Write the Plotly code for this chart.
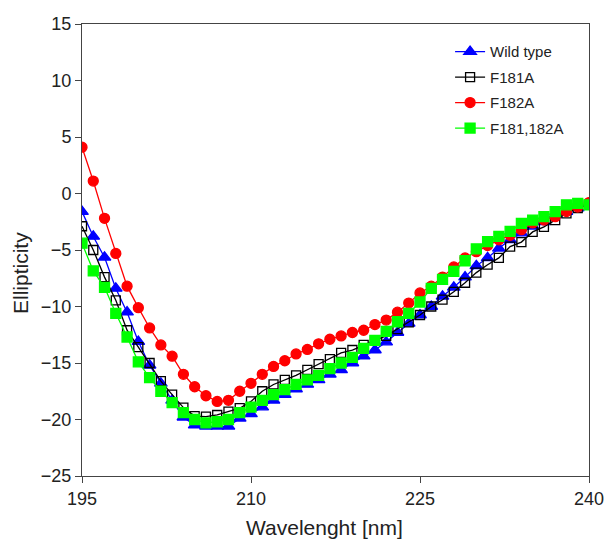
import plotly.graph_objects as go

wavelength = list(range(195, 241))

wild_type = [-1.6, -3.8, -5.65, -8.4, -10.5, -13.1, -15.2, -16.8, -18.3, -19.8,
             -20.5, -20.6, -20.6, -20.6, -19.9, -19.5, -18.9, -18.3, -17.8, -17.3,
             -16.9, -16.5, -16.0, -15.6, -15.0, -14.4, -13.85, -13.15, -12.3, -11.5,
             -10.75, -10.0, -9.1, -8.3, -7.4, -6.4, -5.7, -4.85, -4.1, -3.5,
             -2.9, -2.5, -1.9, -1.6, -1.3, -0.9]

f181a = [-2.9, -5.0, -7.4, -9.45, -12.1, -13.6, -15.0, -16.6, -17.8, -18.95,
         -19.7, -19.75, -19.6, -19.3, -19.0, -18.4, -17.5, -16.9, -16.5, -16.1,
         -15.6, -15.1, -14.65, -14.1, -13.85, -13.4, -13.0, -12.6, -12.0, -11.4,
         -10.75, -10.0, -9.4, -8.7, -7.9, -7.0, -6.3, -5.7, -4.7, -4.3,
         -3.4, -2.95, -2.35, -1.75, -1.3, -1.0]

f182a = [4.1, 1.1, -2.2, -5.3, -8.2, -10.1, -11.9, -13.4, -14.4, -16.0,
         -17.1, -17.9, -18.4, -18.3, -17.5, -16.8, -16.0, -15.3, -14.8, -14.2,
         -13.8, -13.3, -12.9, -12.6, -12.3, -12.1, -11.6, -11.2, -10.5, -9.7,
         -8.8, -8.2, -7.4, -6.5, -5.7, -5.15, -4.6, -4.1, -3.7, -3.2,
         -2.6, -2.35, -2.05, -1.6, -1.2, -0.8]

f181_182a = [-4.4, -6.85, -8.3, -10.6, -12.7, -14.9, -16.3, -17.5, -18.5, -19.4,
             -20.0, -20.3, -20.2, -20.0, -19.4, -18.9, -18.3, -17.8, -17.35, -16.9,
             -16.5, -16.1, -15.5, -15.0, -14.5, -13.7, -13.0, -12.2, -11.35, -10.6,
             -9.6, -8.4, -7.6, -6.9, -5.95, -4.9, -4.26, -3.8, -3.36, -2.64,
             -2.35, -2.05, -1.6, -1.0, -0.87, -1.0]

x_ticks = [195, 210, 225, 240]
y_ticks = [-25, -20, -15, -10, -5, 0, 5, 10, 15]

series = [
    ("Wild type", wild_type, "#0000ff", "triangle-up", 11),
    ("F181A", f181a, "#000000", "square-open", 9),
    ("F182A", f182a, "#ff0000", "circle", 10),
    ("F181,182A", f181_182a, "#00ff00", "square", 10),
]

fig = go.Figure()
for name, vals, color, sym, size in series:
    fig.add_trace(go.Scatter(
        x=wavelength, y=vals, name=name, mode="lines+markers",
        legendgroup=name,
        line=dict(color=color, width=1.3),
        marker=dict(symbol=sym, size=size, color=color,
                    line=dict(color=color, width=1.3)),
    ))

FONT = "Liberation Sans, Arial, sans-serif"
axis_font = dict(family=FONT, size=18, color="#222")

W, H = 606, 539
L, R, T, B = 82, 17, 24, 63
PW, PH = W - L - R, H - T - B

fig.update_layout(
    width=W, height=H,
    margin=dict(l=L, r=R, t=T, b=B),
    plot_bgcolor="white", paper_bgcolor="white",
    font=dict(family=FONT, color="#222"),
    showlegend=True,
    legend=dict(x=0.726, y=0.975, xanchor="left", yanchor="top",
                font=dict(size=15, color="#222"), bgcolor="rgba(0,0,0,0)",
                traceorder="grouped", tracegroupgap=3),
    xaxis=dict(range=[195, 240], tickvals=x_ticks, ticks="outside", ticklen=6,
               showgrid=False, zeroline=False, showline=True, linecolor="#444",
               linewidth=1, mirror=True, tickfont=axis_font, automargin=False),
    yaxis=dict(range=[-25, 15], tickvals=y_ticks, ticks="outside", ticklen=6,
               showgrid=False, zeroline=False, showline=True, linecolor="#444",
               linewidth=1, mirror=True, tickfont=axis_font, automargin=False),
    annotations=[
        dict(text="Wavelenght [nm]", xref="paper", yref="paper",
             x=(324 - L) / PW, y=-(527 - (H - B)) / PH, xanchor="center",
             yanchor="middle", showarrow=False,
             font=dict(family=FONT, size=21, color="#222")),
        dict(text="Ellipticity", xref="paper", yref="paper",
             x=-(L - 20) / PW, y=((H - B) - 273) / PH, xanchor="center",
             yanchor="middle", showarrow=False, textangle=-90,
             font=dict(family=FONT, size=21, color="#222")),
    ],
)

# remove the default page margin so the 606x539 figure fills the window exactly
post = ("document.body.style.margin='0';"
        "document.documentElement.style.overflow='hidden';"
        "document.body.style.overflow='hidden';")
fig.write_html("out.html", post_script=post,
               config={"displayModeBar": False})
